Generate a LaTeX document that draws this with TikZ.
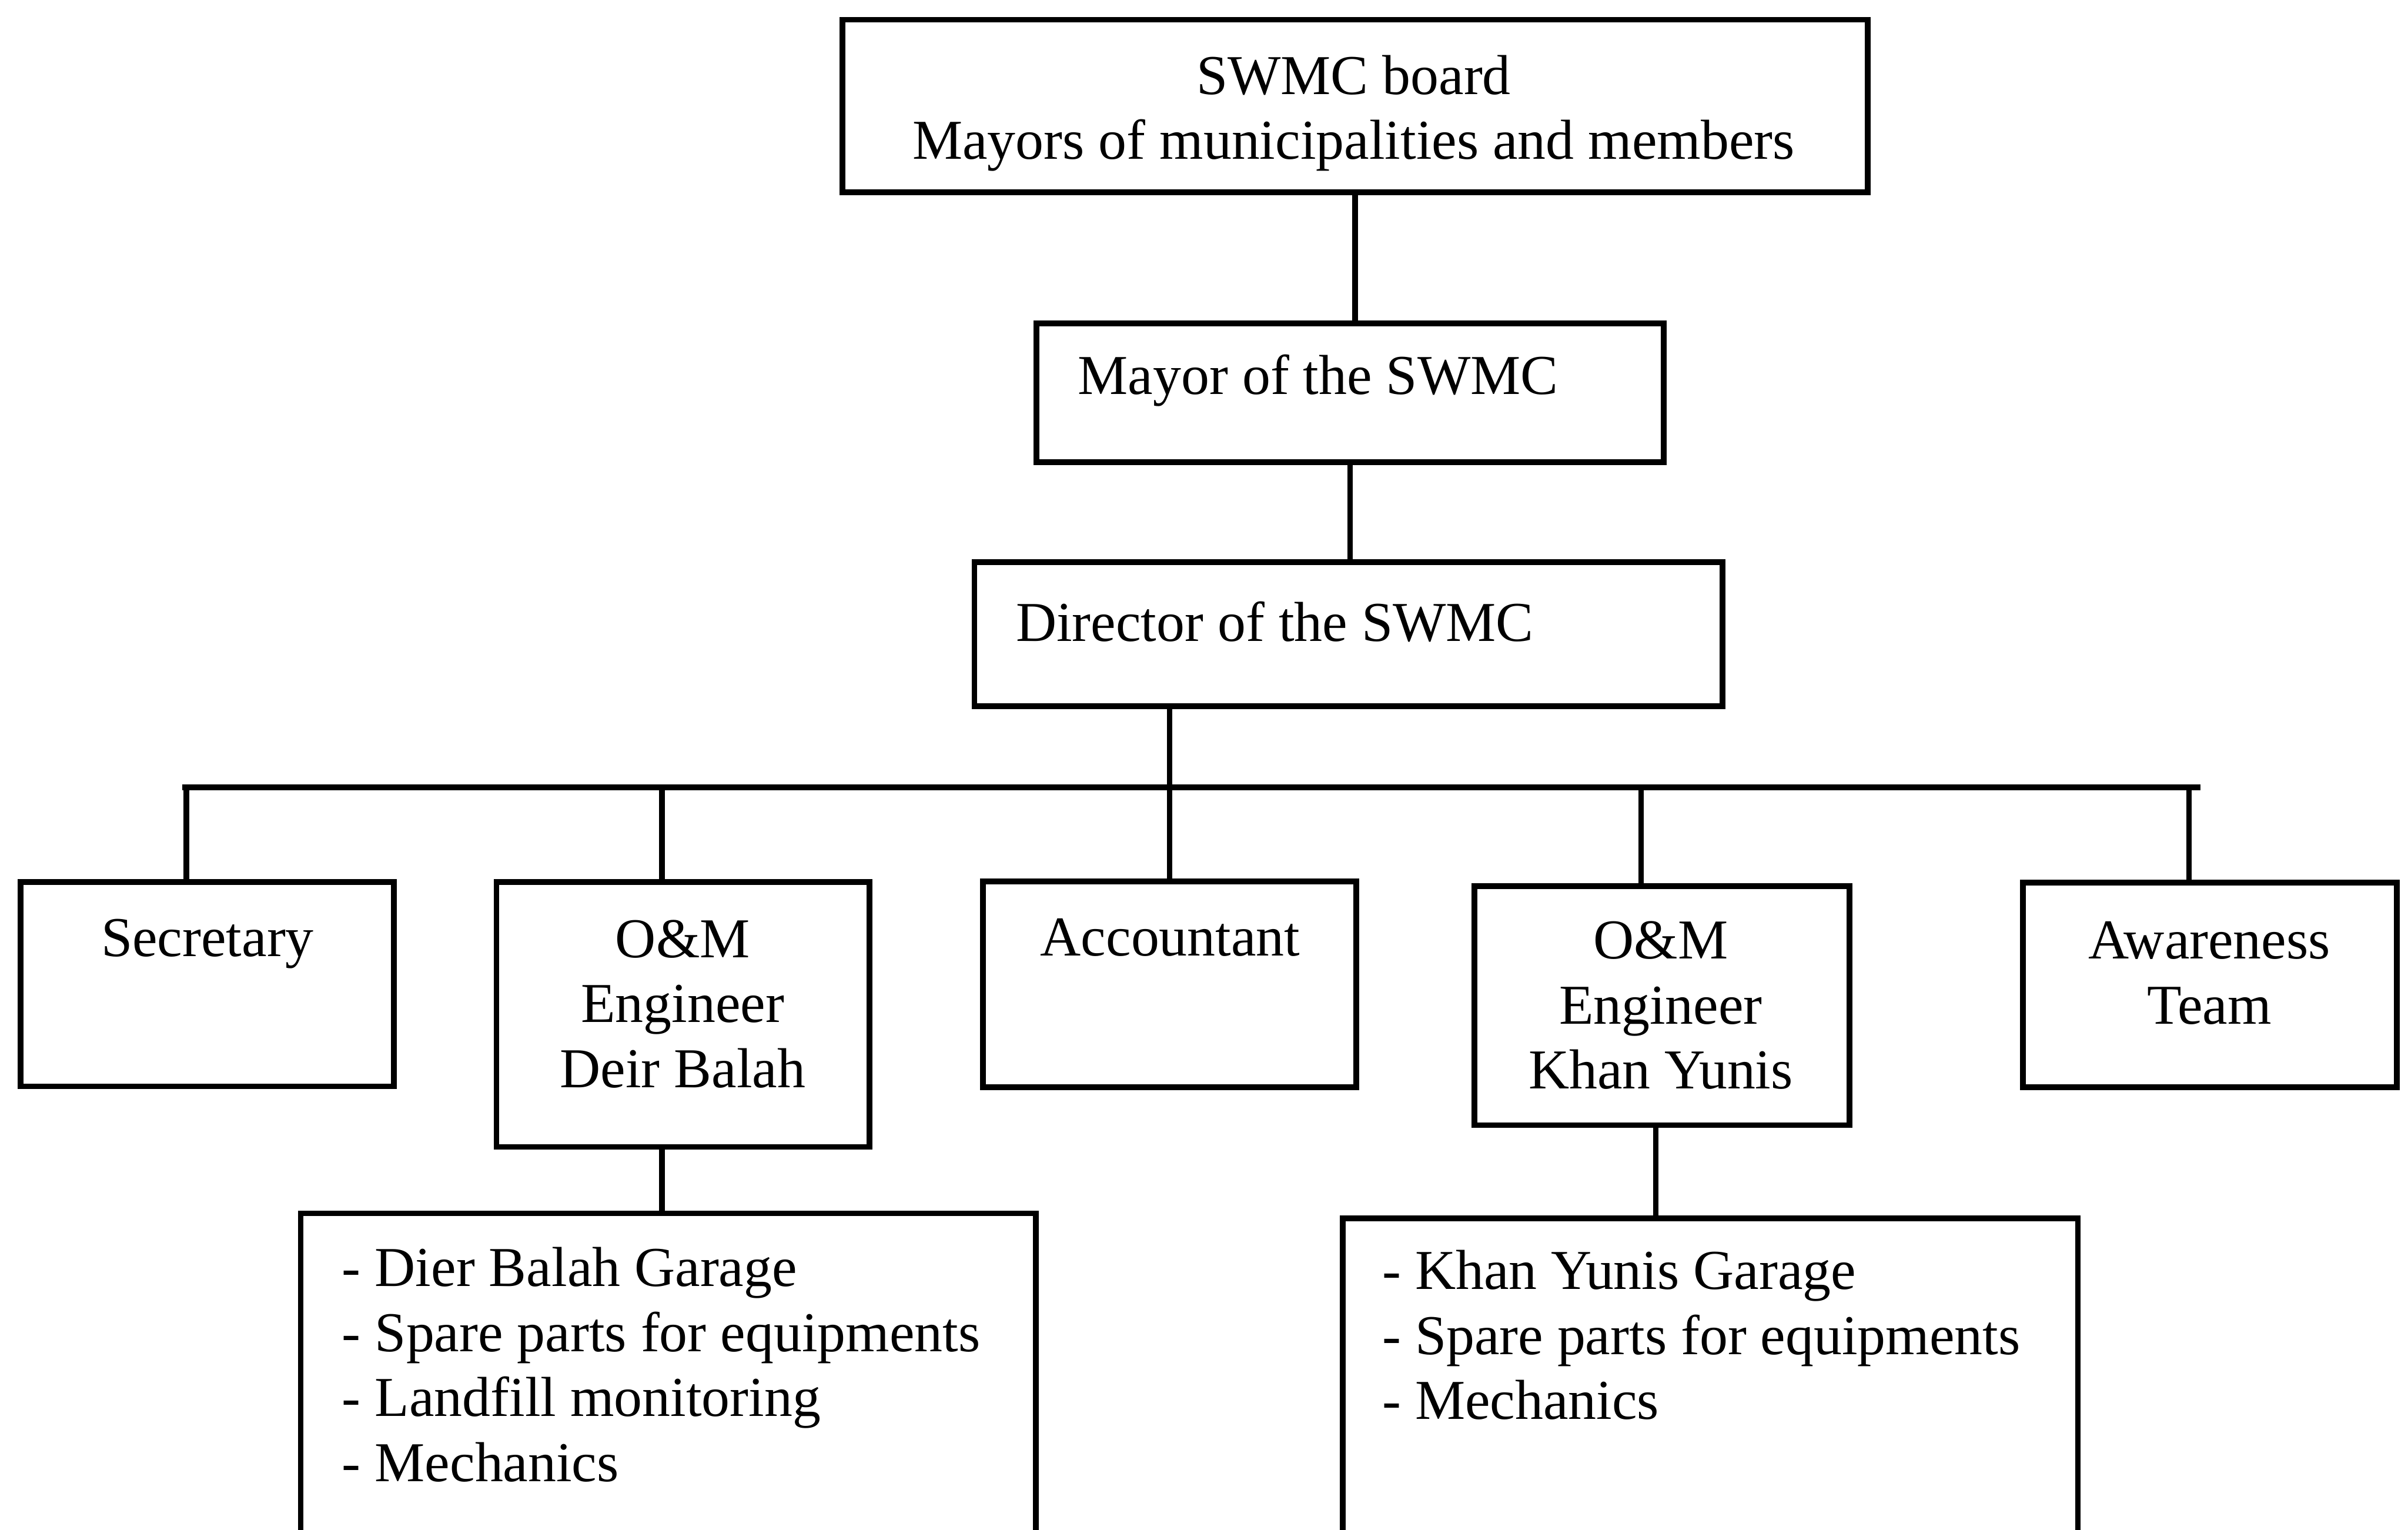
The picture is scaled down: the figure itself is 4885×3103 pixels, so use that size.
\documentclass[tikz,border=0pt]{standalone}
\usepackage{fontspec}
\setmainfont{Liberation Serif}
% stacked lines, baseline on the first one
\newcommand{\stack}[2][c]{\begin{tabular}[t]{@{}#1@{}}#2\end{tabular}}
\tikzset{
  unit/.style={draw=black, line width=1.3pt, inner sep=0pt, outer sep=0pt},
  link/.style={draw=black, line width=1.3pt, line cap=rect},
  txt/.style={inner sep=0pt, outer sep=0pt, font=\fontsize{13pt}{15pt}\selectfont}
}
\begin{document}
\begin{tikzpicture}[x=0.04mm, y=0.04mm, yscale=-1]
\clip (0,0) rectangle (4885,3103);
\path[fill=white] (0,0) rectangle (4885,3103);

% boxes
\node[unit, minimum width=83.2mm, minimum height=14.0mm] (board) at (2749,215) {};
\node[unit, minimum width=50.88mm, minimum height=11.24mm] (mayor) at (2739,796.5) {};
\node[unit, minimum width=60.68mm, minimum height=11.68mm] (director) at (2735.5,1286) {};
\node[unit, minimum width=30.28mm, minimum height=16.56mm] (sec) at (420.5,1996) {};
\node[unit, minimum width=30.28mm, minimum height=21.48mm] (dbeng) at (1385.5,2057.5) {};
\node[unit, minimum width=30.28mm, minimum height=16.68mm] (acct) at (2372.5,1996.5) {};
\node[unit, minimum width=30.44mm, minimum height=19.4mm] (kyeng) at (3371.5,2039.5) {};
\node[unit, minimum width=30.32mm, minimum height=16.6mm] (aware) at (4483,1997.5) {};
\node[unit, minimum width=59.64mm, minimum height=29.56mm] (dblist) at (1355.5,2830.5) {};
\node[unit, minimum width=59.64mm, minimum height=29.16mm] (kylist) at (3469.5,2835.5) {};

% texts
\node[txt, anchor=base] (t-board) at (2746,191) {\stack{SWMC board\\Mayors of municipalities and members}};
\node[txt, anchor=base west] (t-mayor) at (2187,799) {Mayor of the SWMC};
\node[txt, anchor=base west] (t-director) at (2061,1301) {Director of the SWMC};
\node[txt, anchor=base] (t-sec) at (421,1940) {Secretary};
\node[txt, anchor=base] (t-dbeng) at (1385,1942) {\stack{O\&M\\Engineer\\Deir Balah}};
\node[txt, anchor=base] (t-acct) at (2374,1938) {Accountant};
\node[txt, anchor=base] (t-kyeng) at (3369,1945) {\stack{O\&M\\Engineer\\Khan Yunis}};
\node[txt, anchor=base] (t-aware) at (4482,1945) {\stack{Awareness\\Team}};
\node[txt, anchor=base west] (t-dblist) at (694,2609) {\stack[l]{- Dier Balah Garage\\- Spare parts for equipments\\- Landfill monitoring\\- Mechanics}};
\node[txt, anchor=base west] (t-kylist) at (2804,2615) {\stack[l]{- Khan Yunis Garage\\- Spare parts for equipments\\- Mechanics}};

% connectors
\coordinate (busL) at (376,1597);
\coordinate (busR) at (4458,1597);
\draw[link] (board.south) -- (board.south |- mayor.north);
\draw[link] (mayor.south) -- (mayor.south |- director.north);
\draw[link] (acct.north |- director.south) -- (acct.north);
\draw[link] (busL) -- (busR);
\foreach \u in {sec,dbeng,kyeng,aware}
  \draw[link] ([xshift=-1.7mm]\u.north) -- ([xshift=-1.7mm]\u.north |- busL);
\draw[link] ([xshift=-1.7mm]dbeng.south) -- ([xshift=-1.7mm]dbeng.south |- dblist.north);
\draw[link] ([xshift=-0.5mm]kyeng.south) -- ([xshift=-0.5mm]kyeng.south |- kylist.north);
\end{tikzpicture}
\end{document}
